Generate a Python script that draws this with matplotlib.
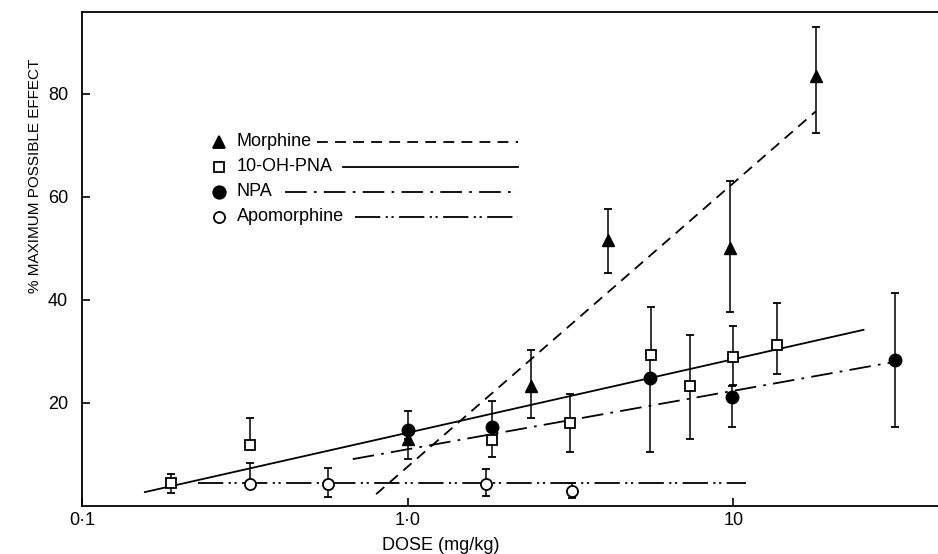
import matplotlib
matplotlib.use("Agg")
import matplotlib.pyplot as plt
from matplotlib.lines import Line2D

plt.rcParams['font.family'] = ['Liberation Sans', 'DejaVu Sans']

# ---- data (dose mg/kg, % maximum possible effect) ----
morph_dose = [1.0, 2.40, 4.13, 9.8, 17.9]
morph_mpe = [13.1, 23.2, 51.7, 50.0, 83.5]
morph_lo = [4.0, 6.2, 6.5, 12.3, 11.1]
morph_hi = [0.0, 7.1, 5.9, 13.1, 9.4]

pna_dose = [0.188, 0.327, 1.82, 3.15, 5.6, 7.35, 9.95, 13.6]
pna_mpe = [4.4, 11.8, 12.8, 16.1, 29.3, 23.2, 28.9, 31.3]
pna_lo = [1.8, 0.0, 3.2, 5.7, 0.0, 10.1, 5.4, 5.7]
pna_hi = [1.9, 5.3, 0.0, 5.6, 9.3, 10.0, 6.1, 8.1]

npa_dose = [1.0, 1.82, 5.56, 9.9, 31.4]
npa_mpe = [14.8, 15.3, 24.9, 21.2, 28.3]
npa_lo = [0.0, 0.0, 14.5, 5.9, 12.9]
npa_hi = [3.7, 5.1, 4.4, 2.0, 13.0]

apo_dose = [0.327, 0.569, 1.74, 3.2]
apo_mpe = [4.2, 4.2, 4.2, 3.0]
apo_lo = [0.0, 2.5, 2.3, 1.5]
apo_hi = [4.1, 3.1, 2.9, 1.4]

# fitted regression lines (end points)
morph_fit_dose = [0.80, 17.9]
morph_fit = [2.3, 76.6]
pna_fit_dose = [0.156, 25.1]
pna_fit = [2.7, 34.2]
npa_fit_dose = [0.678, 31.4]
npa_fit = [9.1, 28.0]
apo_fit_dose = [0.227, 10.9]
apo_fit = [4.4, 4.4]

x_ticks = [0.1, 1.0, 10]
x_ticklabels = ["0·1", "1·0", "10"]
y_ticks = [20, 40, 60, 80]

W, H = 938, 554
fig = plt.figure(figsize=(W / 100, H / 100), dpi=100)
L, R, T, B = 82, 938, 12, 506
ax = fig.add_axes([L / W, 1 - B / H, (R - L) / W, (B - T) / H])
ax.set_xscale('log')
ax.set_xlim(0.1, 42.5)
ax.set_ylim(0, 95.9)
ax.spines['right'].set_visible(False)
for s in ['left', 'top', 'bottom']:
    ax.spines[s].set_linewidth(1.3)

ax.set_xticks(x_ticks)
ax.set_xticklabels(x_ticklabels)
ax.xaxis.set_minor_locator(matplotlib.ticker.NullLocator())
ax.set_yticks(y_ticks)
ax.tick_params(direction='in', length=6, width=1.2, labelsize=13)
ax.tick_params(axis='y', pad=10)
ax.tick_params(axis='x', pad=4)
ax.set_xlabel("DOSE (mg/kg)", fontsize=13)
ax.xaxis.set_label_coords((441 - L) / (R - L), (B - 537) / (B - T))
ax.set_ylabel("% MAXIMUM POSSIBLE EFFECT", fontsize=11)
ax.yaxis.set_label_coords((35 - L) / (R - L), (B - 176) / (B - T))
ax.yaxis.label.set_va('center')

lw = 1.3
morph_ls = (0, (6, 4))
pna_ls = '-'
npa_ls = (0, (12, 4, 1.5, 4))
apo_ls = (0, (14, 3, 1.2, 2, 1.2, 3))

ax.plot(morph_fit_dose, morph_fit, color='k', lw=lw, ls=morph_ls)
ax.plot(pna_fit_dose, pna_fit, color='k', lw=lw, ls=pna_ls)
ax.plot(npa_fit_dose, npa_fit, color='k', lw=lw, ls=npa_ls)
ax.plot(apo_fit_dose, apo_fit, color='k', lw=lw, ls=apo_ls)

eb = dict(color='k', elinewidth=1.1, capsize=3, capthick=1.3, ls='none', zorder=3)
ax.errorbar(pna_dose, pna_mpe, yerr=[pna_lo, pna_hi], **eb)
ax.errorbar(npa_dose, npa_mpe, yerr=[npa_lo, npa_hi], **eb)
ax.errorbar(morph_dose, morph_mpe, yerr=[morph_lo, morph_hi], **eb)
ax.errorbar(apo_dose, apo_mpe, yerr=[apo_lo, apo_hi], **eb)

ax.plot(pna_dose, pna_mpe, 's', ms=7, mfc='white', mec='k', mew=1.3, ls='none', zorder=4)
ax.plot(npa_dose, npa_mpe, 'o', ms=9, mfc='k', mec='k', ls='none', zorder=4)
ax.plot(morph_dose, morph_mpe, '^', ms=8, mfc='k', mec='k', ls='none', zorder=5)
ax.plot(apo_dose, apo_mpe, 'o', ms=8, mfc='white', mec='k', mew=1.3, ls='none', zorder=4)

# ---- hand-drawn key ----
def fx(x):
    return x / W

def fy(y):
    return 1 - y / H

key = [
    ("Morphine", '^', 'k', morph_ls, 317, 141.5, 8),
    ("10-OH-PNA", 's', 'white', pna_ls, 343, 166.5, 7),
    ("NPA", 'o', 'k', npa_ls, 285, 191.5, 9),
    ("Apomorphine", 'o', 'white', apo_ls, 355, 216.5, 8),
]
for label, mk, fc, ls, x0, y, ms in key:
    fig.add_artist(Line2D([fx(219)], [fy(y)], marker=mk, ms=ms, mfc=fc, mec='k',
                          mew=1.3, ls='none'))
    fig.text(fx(237), fy(y), label, fontsize=13, va='center', ha='left')
    fig.add_artist(Line2D([fx(x0), fx(518)], [fy(y), fy(y)], color='k', lw=lw, ls=ls))

fig.savefig("out.png", dpi=100)
